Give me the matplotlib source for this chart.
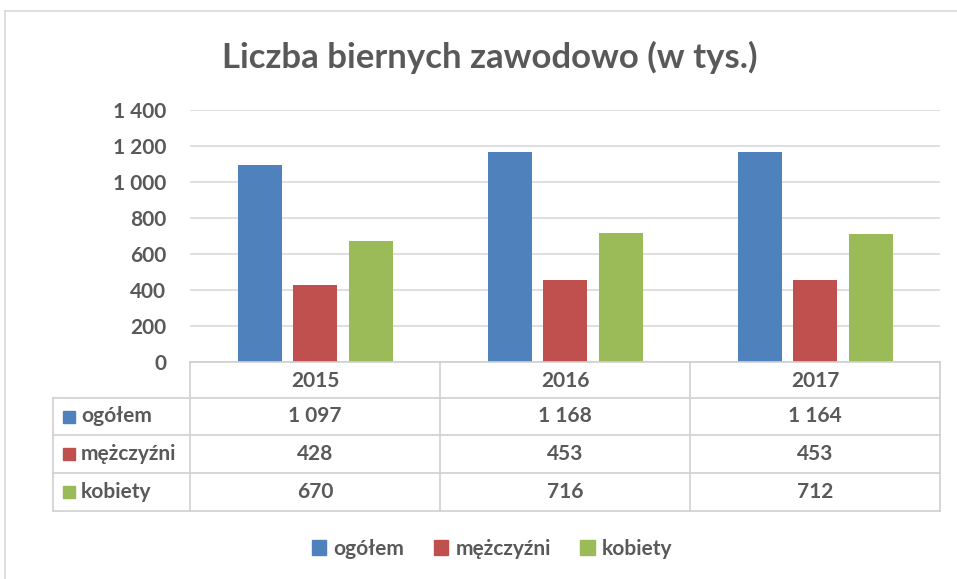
import matplotlib
matplotlib.use("Agg")
import matplotlib.pyplot as plt
from matplotlib.patches import Patch, Rectangle

plt.rcParams['font.family'] = ['Lato', 'DejaVu Sans']

years = ["2015", "2016", "2017"]
series_names = ["ogółem", "mężczyźni", "kobiety"]
ogolem = [1097, 1168, 1164]
mezczyzni = [428, 453, 453]
kobiety = [670, 716, 712]
values = [ogolem, mezczyzni, kobiety]
colors = ["#4F81BD", "#C0504D", "#9BBB59"]
yticks = [0, 200, 400, 600, 800, 1000, 1200, 1400]
title = "Liczba biernych zawodowo (w tys.)"

TXT = "#595959"
GRID = "#D9D9D9"
W, H = 957, 579
FS = 15

def fmt(v):
    return f"{v:,}".replace(",", " ")

fig = plt.figure(figsize=(W / 100, H / 100), dpi=100)

# outer chart border
border = fig.add_axes([0, 0, 1, 1])
border.set_xlim(0, W); border.set_ylim(H, 0); border.axis("off")
border.plot([5, 5], [11, H], color=GRID, lw=1.2)
border.plot([5, W], [11, 11], color=GRID, lw=1.2)

x0, x1 = 190, 940
y_top, y_zero = 110, 362
ax = fig.add_axes([x0 / W, (H - y_zero) / H, (x1 - x0) / W, (y_zero - y_top) / H])
ax.set_xlim(-0.5, 2.5)
ax.set_ylim(0, 1400)
bw = 0.176
off = 0.222
for i, (vals, c) in enumerate(zip(values, colors)):
    ax.bar([k + (i - 1) * off for k in range(3)], vals, width=bw, color=c, zorder=3)
ax.set_yticks(yticks)
ax.set_yticklabels([fmt(v) for v in yticks], fontsize=FS, fontweight="bold", color=TXT)
ax.tick_params(axis="y", length=0, pad=17)
ax.set_xticks([])
ax.grid(axis="y", color=GRID, lw=1.2, zorder=0)
for s in ax.spines.values():
    s.set_visible(False)

fig.text(490 / W, 1 - 57 / H, title, ha="center", va="center", fontsize=25,
         fontweight="bold", color=TXT)

# data table
tb = fig.add_axes([0, 0, 1, 1], zorder=5)
tb.set_xlim(0, W); tb.set_ylim(H, 0); tb.axis("off")
tb.patch.set_alpha(0)
cols = [190, 440, 690, 940]
rows = [362, 398, 435, 473, 511]
lc = "#D0D0D0"
tb.plot([190, 940], [362, 362], color=lc, lw=1.2)
for y in rows[1:]:
    tb.plot([53, 940], [y, y], color=lc, lw=1.2)
for x in cols:
    tb.plot([x, x], [362, 511], color=lc, lw=1.2)
tb.plot([53, 53], [398, 511], color=lc, lw=1.2)
for j, yr in enumerate(years):
    tb.text((cols[j] + cols[j + 1]) / 2, (rows[0] + rows[1]) / 2 + 1, yr, ha="center",
            va="center", fontsize=FS, fontweight="bold", color=TXT)
for i, (name, vals, c) in enumerate(zip(series_names, values, colors)):
    yc = (rows[i + 1] + rows[i + 2]) / 2
    tb.add_patch(Rectangle((63, yc - 6), 12, 12, color=c))
    tb.text(81, yc, name, ha="left", va="center", fontsize=FS, fontweight="bold", color=TXT)
    for j, v in enumerate(vals):
        tb.text((cols[j] + cols[j + 1]) / 2, yc, fmt(v), ha="center", va="center",
                fontsize=FS, fontweight="bold", color=TXT)

handles = [Patch(color=c, label=n) for n, c in zip(series_names, colors)]
fig.legend(handles=handles, loc="center", bbox_to_anchor=(492 / W, 1 - 549 / H), ncol=3,
           frameon=False, handlelength=0.7, handleheight=0.7, handletextpad=0.35,
           columnspacing=1.4, prop={"size": FS, "weight": "bold"}, labelcolor=TXT)

fig.savefig("out.png", dpi=100)
